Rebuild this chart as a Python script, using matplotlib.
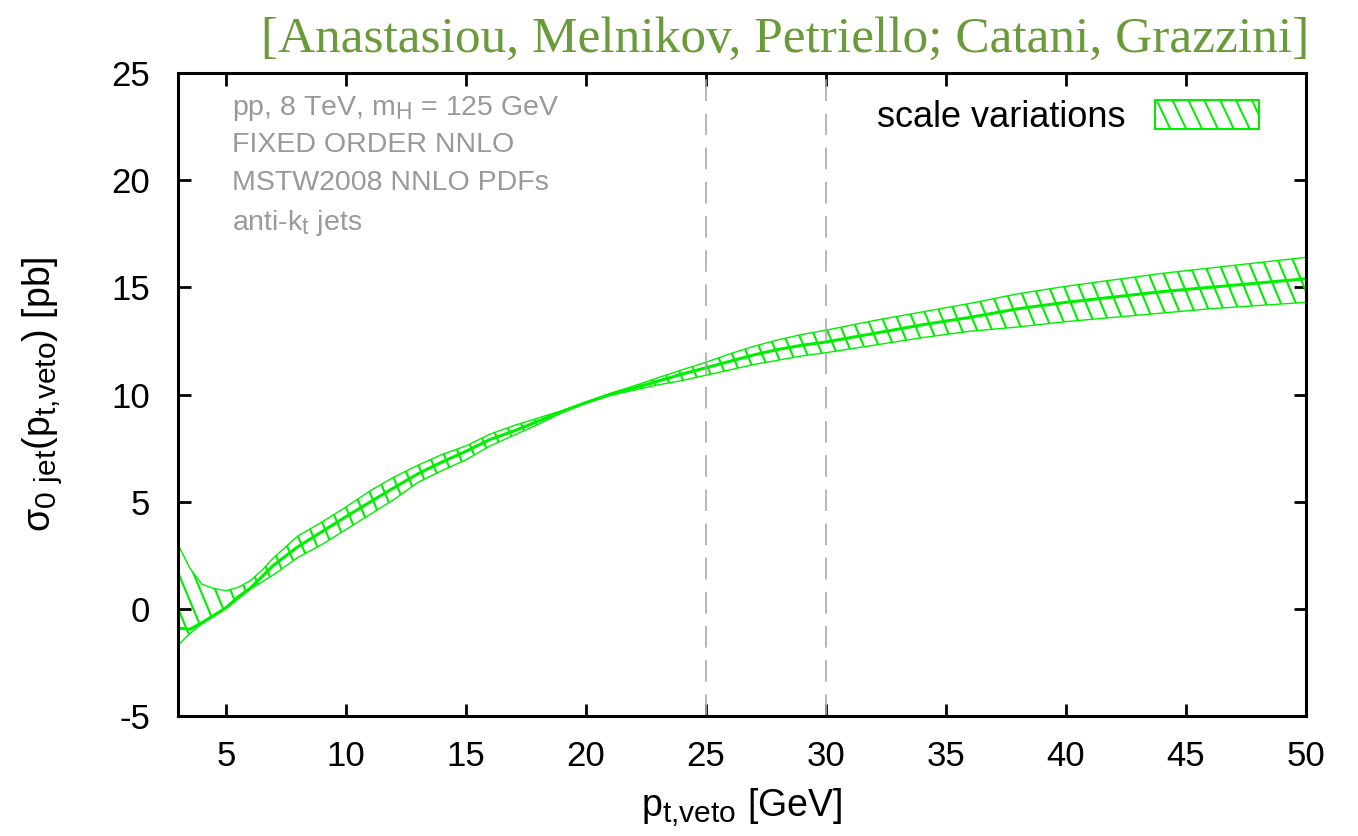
import matplotlib
matplotlib.use("Agg")
import numpy as np
import matplotlib.pyplot as plt
import matplotlib._mathtext as _mt
from matplotlib.patches import Rectangle
from matplotlib.collections import LineCollection
from matplotlib.lines import Line2D
from matplotlib.legend_handler import HandlerBase

plt.rcParams['font.family'] = ['Liberation Sans', 'DejaVu Sans']
plt.rcParams['mathtext.default'] = 'regular'
plt.rcParams['axes.unicode_minus'] = False
_mt.SHRINK_FACTOR = 0.8   # gnuplot-like sub/superscript size

# data
pt_veto = [3, 3.5, 4, 4.5, 5, 5.5, 6, 6.5, 7, 8, 9, 10, 11, 12, 13, 14, 15, 16, 17, 18, 19, 20,
           21, 22, 23, 24, 25, 26, 27, 28, 29, 30, 32, 34, 36, 38, 40, 42, 44, 46, 48, 50]
sigma_upper = [3.0, 1.9, 1.15, 0.95, 0.85, 1.0, 1.3, 1.8, 2.4, 3.4, 4.05, 4.75, 5.5, 6.15, 6.7, 7.2,
               7.6, 8.15, 8.55, 8.9, 9.25, 9.65, 10.05, 10.4, 10.78, 11.15, 11.5, 11.9, 12.25, 12.55,
               12.8, 13.0, 13.45, 13.85, 14.25, 14.7, 15.05, 15.35, 15.65, 15.9, 16.15, 16.4]
sigma_central = [-0.9, -0.95, -0.65, -0.3, 0.05, 0.55, 0.95, 1.5, 2.05, 2.9, 3.6, 4.3, 4.98, 5.65,
                 6.3, 6.85, 7.35, 7.9, 8.3, 8.75, 9.2, 9.62, 10.0, 10.3, 10.62, 10.95, 11.25, 11.55,
                 11.85, 12.1, 12.3, 12.45, 12.85, 13.25, 13.6, 14.0, 14.3, 14.55, 14.8, 15.0, 15.2, 15.4]
sigma_lower = [-1.7, -1.15, -0.7, -0.35, 0.0, 0.45, 0.9, 1.25, 1.6, 2.4, 3.0, 3.7, 4.4, 5.1, 5.9,
               6.45, 6.95, 7.6, 8.1, 8.6, 9.15, 9.6, 9.95, 10.2, 10.45, 10.65, 10.9, 11.15, 11.4,
               11.6, 11.8, 11.95, 12.3, 12.65, 12.95, 13.15, 13.4, 13.6, 13.8, 14.0, 14.15, 14.3]
veto_lines = [25, 30]
x_ticks = [5, 10, 15, 20, 25, 30, 35, 40, 45, 50]
y_ticks = [-5, 0, 5, 10, 15, 20, 25]
info_lines = ["pp, 8 TeV, m$_{H}$ = 125 GeV", "FIXED ORDER NNLO", "MSTW2008 NNLO PDFs",
              "anti-k$_{t}$ jets"]

GREEN = '#00ee00'
HATCH_STEP = 15.0    # horizontal spacing of hatch lines (pixels)
HATCH_SLOPE = 2.4    # steepness of hatch lines (dy/dx in pixels)

FIG_W, FIG_H = 13.58, 8.36
AX_RECT = [0.131, 0.1435, 0.8307, 0.7692]

fig = plt.figure(figsize=(FIG_W, FIG_H), dpi=100)
ax = fig.add_axes(AX_RECT)

band = ax.fill_between(pt_veto, sigma_lower, sigma_upper, facecolor='none',
                       edgecolor=GREEN, linewidth=1.0)

# steep "\" hatching clipped to the band
W = AX_RECT[2] * FIG_W * 100
H = AX_RECT[3] * FIG_H * 100
run = H / HATCH_SLOPE
segs = []
for x0 in np.arange(-run, W + HATCH_STEP, HATCH_STEP):
    segs.append([(x0 / W, 1.0), ((x0 + run) / W, 0.0)])
hatch = LineCollection(segs, colors=GREEN, linewidths=1.5, transform=ax.transAxes)
ax.add_collection(hatch, autolim=False)
hatch.set_clip_path(band.get_paths()[0], ax.transData)

ax.plot(pt_veto, sigma_central, color=GREEN, lw=2.2)

for xv in veto_lines:
    ax.axvline(xv, color='#aaaaaa', lw=1.2, dashes=(13, 7.5))

ax.set_xlim(3, 50)
ax.set_ylim(-5, 25)
ax.set_xticks(x_ticks)
ax.set_yticks(y_ticks)
ax.tick_params(direction='in', length=9, width=2, top=True, right=True, labelsize=25)
ax.tick_params(axis='x', pad=17)
ax.tick_params(axis='y', pad=20)
for s in ax.spines.values():
    s.set_linewidth(2.2)

ax.set_xlabel("p$_{t{,}veto}$ [GeV]", fontsize=27, labelpad=10)
ax.set_ylabel("σ$_{0\\ jet}$(p$_{t{,}veto}$) [pb]", fontsize=27, labelpad=34)

for i, t in enumerate(info_lines):
    ax.text(0.048, 0.968 - i * 0.0595, t, transform=ax.transAxes, fontsize=20.5,
            color='#999999', va='top', ha='left')


class SteepHatchHandler(HandlerBase):
    def create_artists(self, legend, orig_handle, xdescent, ydescent, width, height,
                       fontsize, trans):
        x0, y0 = -xdescent, -ydescent
        arts = [Rectangle((x0, y0), width, height, facecolor='none', edgecolor=GREEN,
                          lw=1.5, transform=trans)]
        run_l = height / 2.1
        step = width / 6.6
        xs = np.arange(-run_l, width, step)
        for xs0 in xs:
            t0 = max(0.0, -xs0 / run_l)
            t1 = min(1.0, (width - xs0) / run_l)
            if t1 <= t0:
                continue
            p0 = (x0 + xs0 + run_l * t0, y0 + height * (1 - t0))
            p1 = (x0 + xs0 + run_l * t1, y0 + height * (1 - t1))
            arts.append(Line2D([p0[0], p1[0]], [p0[1], p1[1]], color=GREEN, lw=1.4,
                               transform=trans))
        return arts


proxy = Rectangle((0, 0), 1, 1, label='scale variations')
ax.legend(handles=[proxy], handler_map={Rectangle: SteepHatchHandler()},
          loc='upper right', frameon=False, fontsize=26, markerfirst=False,
          handlelength=2.9, handleheight=0.85, handletextpad=0.8,
          bbox_to_anchor=(0.981, 0.997), borderaxespad=0.3)

fig.text(0.9645, 0.952, "[Anastasiou, Melnikov, Petriello; Catani, Grazzini]",
         family=['Liberation Serif', 'DejaVu Serif'], fontsize=37, color='#6a9a3a',
         ha='right', va='center')

fig.savefig("out.png", dpi=100)
